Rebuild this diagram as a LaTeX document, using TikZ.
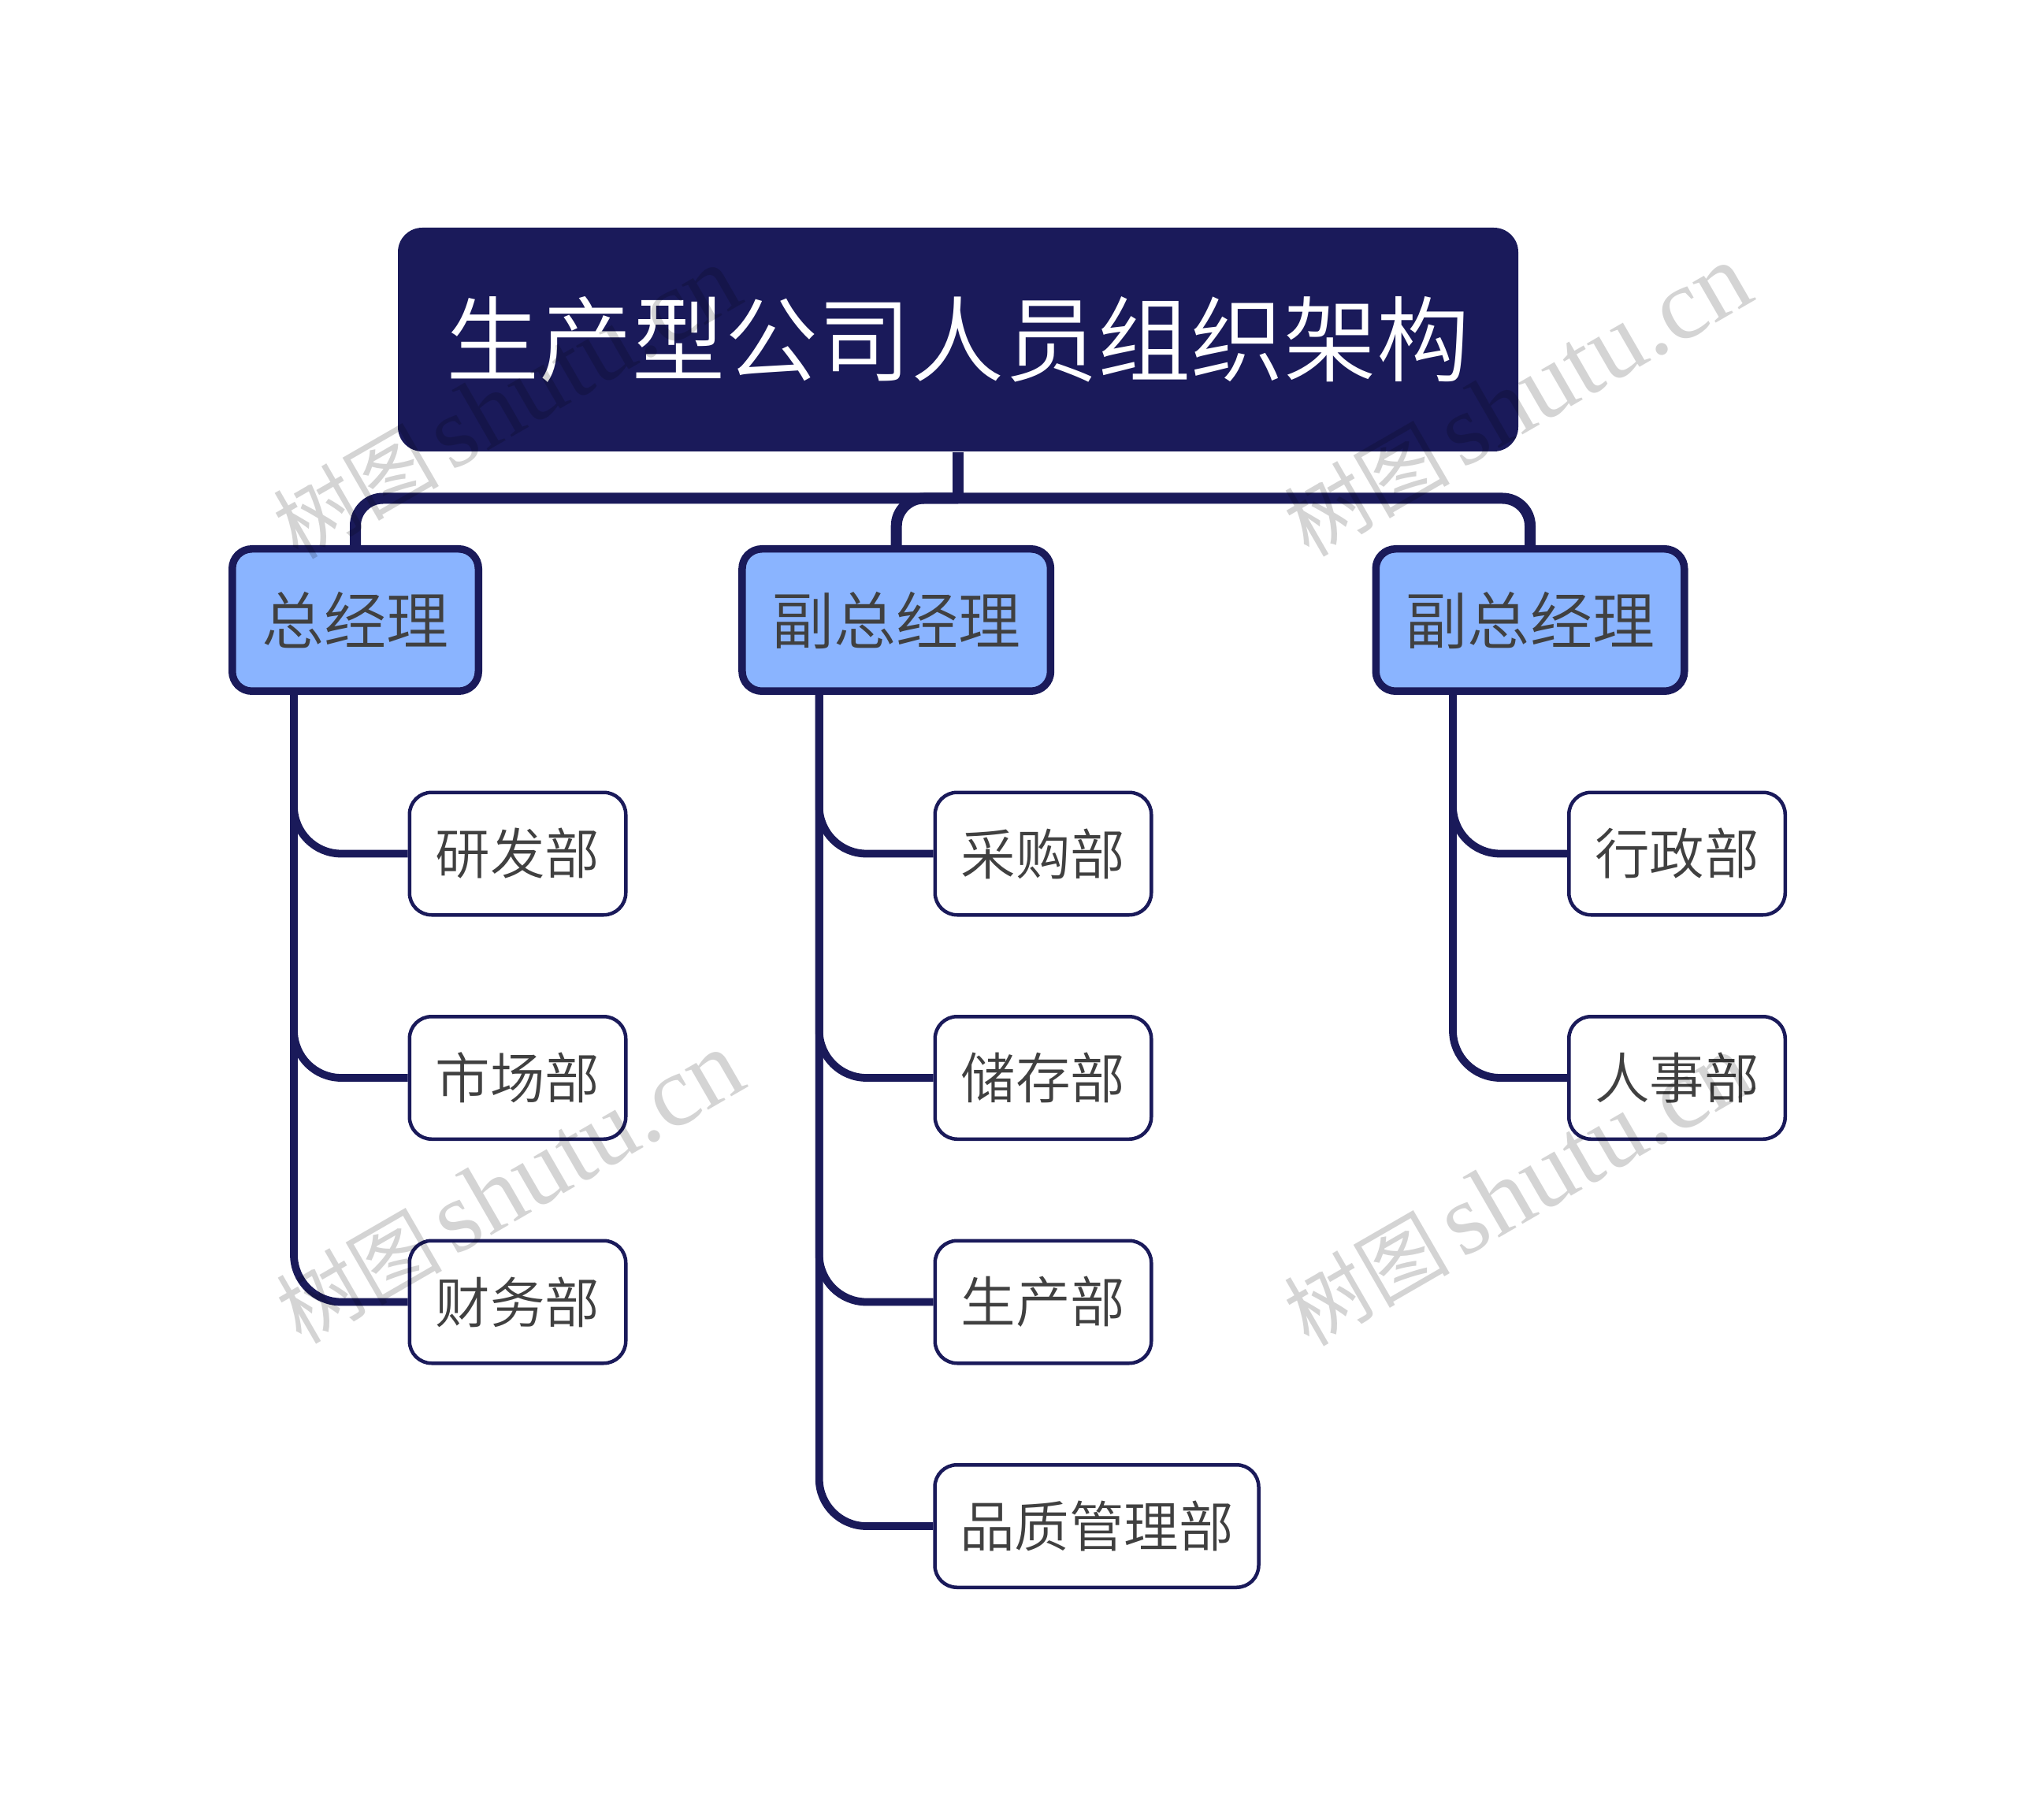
\documentclass[tikz,border=0pt]{standalone}
\usepackage{fontspec}
\setmainfont{Noto Sans CJK SC}[UprightFont={* DemiLight}]
\newfontfamily\wmfont{Noto Sans CJK SC}
\newfontfamily\wmlatin{Liberation Serif}
\definecolor{navy}{HTML}{1A1A5A}
\definecolor{skyfill}{HTML}{8AB4FF}
\definecolor{inktext}{HTML}{404040}
\newcommand{\wmtext}{{\wmfont\fontsize{30}{40}\selectfont 树图}\hspace{0.15cm}{\wmlatin\fontsize{36.6}{40}\selectfont shutu.cn}}
\tikzset{
  rootbox/.style={fill=navy, text=white, rounded corners=0.31cm, inner sep=0pt,
    minimum width=14.22cm, minimum height=2.84cm, font=\fontsize{33.6}{40}\selectfont},
  headbox/.style={draw=navy, fill=skyfill, text=inktext, line width=0.095cm, rounded corners=0.25cm,
    inner sep=0pt, minimum width=3.915cm, minimum height=1.805cm, font=\fontsize{22.5}{28}\selectfont},
  deptbox/.style={draw=navy, fill=white, text=inktext, line width=0.045cm, rounded corners=0.28cm,
    inner sep=0pt, minimum width=2.745cm, minimum height=1.555cm, font=\fontsize{19.8}{25}\selectfont},
  busline/.style={draw=navy, line width=0.14cm, rounded corners=0.35cm},
  branchline/.style={draw=navy, line width=0.098cm, rounded corners=0.6cm},
  watermark/.style={text=black, opacity=0.17, text opacity=0.17, rotate=30}
}
\begin{document}
\begin{tikzpicture}
\useasboundingbox (0,0) rectangle (25.6,-23.1);

% Root
\node[rootbox] (root) at (12.16,-4.31) {生产型公司人员组织架构};
\coordinate[below of=root, node distance=2.015cm] (bus);

% Managers
\node[headbox, below of=root, node distance=3.56cm, xshift=-7.65cm, minimum width=3.125cm] (gm) {总经理};
\node[headbox, below of=root, node distance=3.56cm, xshift=-0.783cm] (vpa) {副总经理};
\node[headbox, below of=root, node distance=3.56cm, xshift=7.26cm] (vpb) {副总经理};

% Departments under the general manager
\node[deptbox, below of=gm, node distance=2.965cm, xshift=2.06cm] (rd) {研发部};
\node[deptbox, below of=rd, node distance=2.845cm] (market) {市场部};
\node[deptbox, below of=market, node distance=2.845cm] (finance) {财务部};

% Departments under the first vice manager
\node[deptbox, below of=vpa, node distance=2.965cm, xshift=1.863cm] (purchase) {采购部};
\node[deptbox, below of=purchase, node distance=2.845cm] (storage) {储存部};
\node[deptbox, below of=storage, node distance=2.845cm] (produce) {生产部};
\node[deptbox, below of=produce, node distance=2.845cm, xshift=0.68cm, minimum width=4.11cm] (quality) {品质管理部};

% Departments under the second vice manager
\node[deptbox, below of=vpb, node distance=2.965cm, xshift=1.865cm] (admin) {行政部};
\node[deptbox, below of=admin, node distance=2.845cm] (staff) {人事部};

% Bus from the root
\draw[draw=navy, line width=0.14cm] (root.south) -- (bus);
\draw[busline] (bus) -| (gm.north);
\draw[busline] (bus) -| (vpa.north);
\draw[busline] (bus) -| (vpb.north);

% Branches
\draw[branchline] ([xshift=-0.78cm]gm.south) |- (rd.west);
\draw[branchline] ([xshift=-0.78cm]gm.south) |- (market.west);
\draw[branchline] ([xshift=-0.78cm]gm.south) |- (finance.west);

\draw[branchline] ([xshift=-0.98cm]vpa.south) |- (purchase.west);
\draw[branchline] ([xshift=-0.98cm]vpa.south) |- (storage.west);
\draw[branchline] ([xshift=-0.98cm]vpa.south) |- (produce.west);
\draw[branchline] ([xshift=-0.98cm]vpa.south) |- (quality.west);

\draw[branchline] ([xshift=-0.98cm]vpb.south) |- (admin.west);
\draw[branchline] ([xshift=-0.98cm]vpb.south) |- (staff.west);

% Watermarks
\node[watermark] (marka) at (6.43,-5.12) {\wmtext};
\node[watermark] (markb) at (19.26,-5.09) {\wmtext};
\node[watermark] (markc) at (6.47,-15.08) {\wmtext};
\node[watermark] (markd) at (19.26,-15.11) {\wmtext};
\end{tikzpicture}
\end{document}
